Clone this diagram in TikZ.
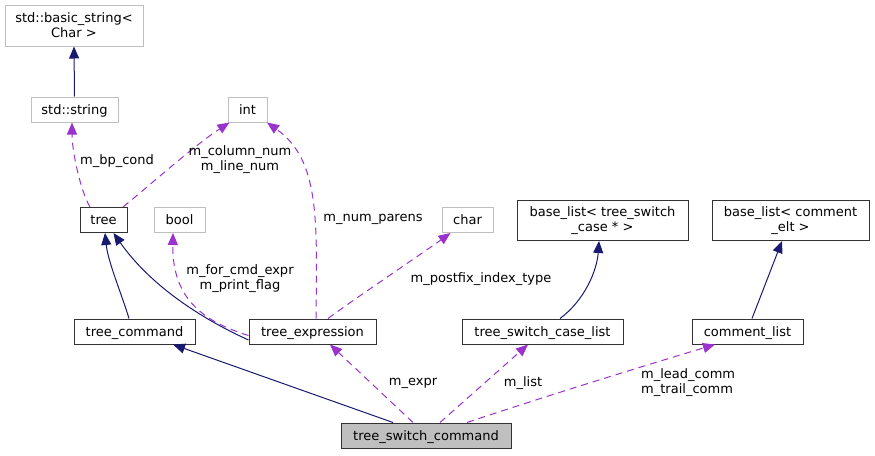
\documentclass[tikz,border=0pt]{standalone}
\usepackage{fontspec}
\setmainfont{DejaVu Sans}
\usetikzlibrary{arrows.meta}
\definecolor{navyedge}{HTML}{191970}
\definecolor{purpedge}{HTML}{9A32CD}
\definecolor{extgray}{HTML}{BFBFBF}
\begin{document}
\begin{tikzpicture}[x=1pt,y=-1pt,
  every node/.style={font=\fontsize{13}{15}\selectfont, inner sep=0pt},
  cls/.style={draw=black!80, line width=1pt, fill=white, text height=9.5pt, text depth=0pt, minimum height=25pt},
  cls2/.style={draw=black!80, line width=1pt, fill=white, align=center, minimum height=40pt},
  ext/.style={draw=extgray, line width=1pt, fill=white, text height=9.5pt, text depth=0pt, minimum height=25pt},
  ext2/.style={draw=extgray, line width=1pt, fill=white, align=center, minimum height=41pt},
  root/.style={cls, fill=extgray},
  inh/.style={draw=navyedge, line width=1pt, -{Triangle[length=12pt,width=10pt]}},
  use/.style={draw=purpedge, line width=1pt, dash pattern=on 7pt off 5pt, -{Triangle[length=12pt,width=10pt]}},
  lbl/.style={align=center}
]
\useasboundingbox (0,0) rectangle (875,455);

\node[ext2, minimum width=138pt] (basic) at (74,25.5) {std::basic\_string<\\Char >};
\node[ext, minimum width=87pt] (stdstring) at (74.5,109.5) {std::string};
\node[ext, minimum width=39pt] (int) at (247.5,109.5) {int};
\node[cls, minimum width=47pt] (tree) at (103.5,220) {tree};
\node[ext, minimum width=51pt] (bool) at (179.5,220) {bool};
\node[ext, minimum width=51pt] (char) at (467.5,220) {char};
\node[cls2, minimum width=171pt] (bl1) at (602.5,220.5) {base\_list< tree\_switch\\\_case * >};
\node[cls2, minimum width=157pt] (bl2) at (790.5,220.5) {base\_list< comment\\\_elt >};
\node[cls, minimum width=121pt] (tcmd) at (134.5,331.5) {tree\_command};
\node[cls, minimum width=127pt] (texpr) at (312.5,331.5) {tree\_expression};
\node[cls, minimum width=161pt] (tscl) at (542.5,331.5) {tree\_switch\_case\_list};
\node[cls, minimum width=111pt] (clist) at (747.5,331.5) {comment\_list};
\node[root, minimum width=170pt] (tsc) at (426,435.5) {tree\_switch\_command};

% inheritance
\draw[inh] (stdstring.north) -- (basic.south);
\draw[inh] ([xshift=-5.5pt]tcmd.north) .. controls (122,295) and (108,262) .. ([xshift=1.5pt]tree.south);
\draw[inh] ([yshift=-8.5pt]texpr.west) .. controls (200,318) and (150,285) .. ([xshift=10pt]tree.south);
\draw[inh] ([xshift=17.5pt]tscl.north) .. controls (585,300) and (597,270) .. ([xshift=-3.5pt]bl1.south);
\draw[inh] ([xshift=4.5pt]clist.north) -- ([xshift=-8.5pt]bl2.south);
\draw[inh] ([xshift=-33pt]tsc.north) -- ([xshift=38.5pt]tcmd.south);

% usage
\draw[use] ([xshift=-13.5pt]tree.north) .. controls (80,190) and (72,150) .. ([xshift=-2.5pt]stdstring.south);
\draw[use] ([xshift=19.5pt]tree.north) .. controls (150,185) and (195,145) .. ([xshift=-18pt]int.south);
\draw[use] ([xshift=3.5pt]texpr.north) .. controls (317,220) and (320,160) .. ([xshift=19.5pt]int.south);
\draw[use] ([yshift=-4pt]texpr.west) .. controls (205,322) and (172,300) .. ([xshift=-6.5pt]bool.south);
\draw[use] ([xshift=15.5pt]texpr.north) .. controls (360,295) and (420,255) .. ([xshift=-17pt]char.south);
\draw[use] ([xshift=-13pt]tsc.north) -- ([xshift=17.5pt]texpr.south);
\draw[use] ([xshift=14pt]tsc.north) -- ([xshift=-14.5pt]tscl.south);
\draw[use] ([xshift=41pt]tsc.north) .. controls (540,398) and (640,367) .. ([xshift=-32.5pt]clist.south);

% labels
\node[lbl] (l1) at (117,161) {m\_bp\_cond};
\node[lbl] (l2) at (240,160) {m\_column\_num\\m\_line\_num};
\node[lbl] (l3) at (373,219) {m\_num\_parens};
\node[lbl] (l4) at (240,279) {m\_for\_cmd\_expr\\m\_print\_flag};
\node[lbl] (l5) at (481,279) {m\_postfix\_index\_type};
\node[lbl] (l6) at (413,383) {m\_expr};
\node[lbl] (l7) at (523,383) {m\_list};
\node[align=left, anchor=west] (l8) at (641,383) {m\_lead\_comm\\m\_trail\_comm};
\end{tikzpicture}
\end{document}
